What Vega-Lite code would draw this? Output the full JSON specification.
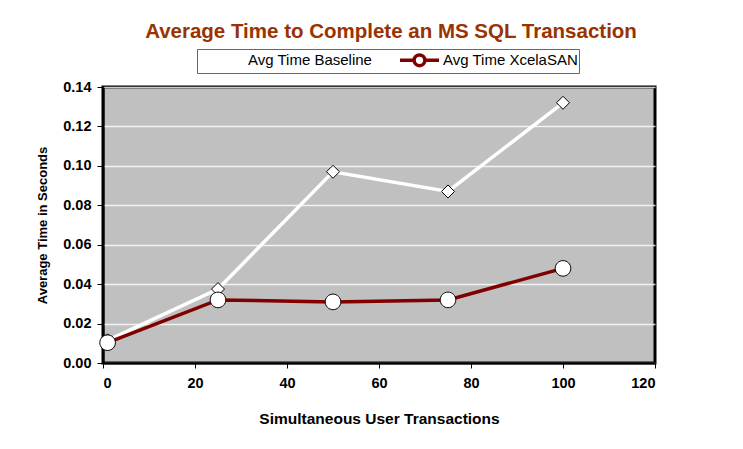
{
  "$schema": "https://vega.github.io/schema/vega-lite/v6.json",
  "width": 552,
  "height": 276,
  "autosize": {"type": "none"},
  "padding": {"left": 103, "top": 87, "right": 88, "bottom": 86},
  "background": "white",
  "title": {
    "text": "Average Time to Complete an MS SQL Transaction",
    "font": "Liberation Sans",
    "fontSize": 20.5,
    "fontWeight": "bold",
    "color": "#993300",
    "anchor": "middle",
    "frame": "group",
    "dx": 12,
    "offset": 6
  },
  "data": {
    "values": [
      {"users": 1, "time": 0.0115, "series": "Avg Time Baseline"},
      {"users": 25, "time": 0.0375, "series": "Avg Time Baseline"},
      {"users": 50, "time": 0.097, "series": "Avg Time Baseline"},
      {"users": 75, "time": 0.087, "series": "Avg Time Baseline"},
      {"users": 100, "time": 0.132, "series": "Avg Time Baseline"},
      {"users": 1, "time": 0.0103, "series": "Avg Time XcelaSAN"},
      {"users": 25, "time": 0.032, "series": "Avg Time XcelaSAN"},
      {"users": 50, "time": 0.031, "series": "Avg Time XcelaSAN"},
      {"users": 75, "time": 0.032, "series": "Avg Time XcelaSAN"},
      {"users": 100, "time": 0.048, "series": "Avg Time XcelaSAN"}
    ]
  },
  "encoding": {
    "x": {
      "field": "users",
      "type": "quantitative",
      "scale": {"domain": [0, 120], "nice": false},
      "axis": {
        "values": [0, 20, 40, 60, 80, 100, 120],
        "title": "Simultaneous User Transactions",
        "grid": false,
        "tickSize": 5,
        "tickColor": "black",
        "domainColor": "black",
        "domainWidth": 2,
        "labelFont": "Liberation Sans",
        "labelFontWeight": "bold",
        "labelFontSize": 14.5,
        "labelColor": "black",
        "labelPadding": 8,
        "titleFont": "Liberation Sans",
        "titleFontWeight": "bold",
        "titleFontSize": 15.5,
        "titleColor": "black",
        "titlePadding": 22
      }
    },
    "y": {
      "field": "time",
      "type": "quantitative",
      "scale": {"domain": [0, 0.14], "nice": false},
      "axis": {
        "values": [0, 0.02, 0.04, 0.06, 0.08, 0.1, 0.12, 0.14],
        "format": ".2f",
        "title": "Average Time in Seconds",
        "grid": true,
        "gridColor": "white",
        "gridOpacity": 0.8,
        "gridWidth": 1.5,
        "tickSize": 6,
        "tickColor": "black",
        "domainColor": "black",
        "domainWidth": 2,
        "labelFont": "Liberation Sans",
        "labelFontWeight": "bold",
        "labelFontSize": 14.5,
        "labelColor": "black",
        "labelPadding": 6,
        "titleFont": "Liberation Sans",
        "titleFontWeight": "bold",
        "titleFontSize": 13,
        "titleColor": "black",
        "titlePadding": 13
      }
    }
  },
  "layer": [
    {
      "mark": {"type": "line", "strokeWidth": 3.5},
      "encoding": {
        "color": {
          "field": "series",
          "type": "nominal",
          "scale": {"domain": ["Avg Time Baseline", "Avg Time XcelaSAN"], "range": ["#FFFFFF", "#800000"]},
          "legend": {
            "title": null,
            "orient": "none",
            "legendX": 94,
            "legendY": -38,
            "direction": "horizontal",
            "fillColor": "white",
            "strokeColor": "#666666",
            "padding": 0,
            "symbolType": "M-0.333,0H1.233M2.433,0H4M2.433,0A0.6,0.6,0,1,1,1.233,0A0.6,0.6,0,1,1,2.433,0",
            "symbolSize": 324,
            "symbolStrokeWidth": 3.5,
            "labelFont": "Liberation Sans",
            "labelFontSize": 15,
            "labelColor": "black",
            "labelOffset": 29,
            "columnPadding": 19
          }
        }
      }
    },
    {
      "mark": {"type": "point", "fill": "white", "stroke": "black", "strokeWidth": 1, "size": 2700, "opacity": 1, "fillOpacity": 1},
      "encoding": {
        "shape": {
          "field": "series",
          "type": "nominal",
          "scale": {"range": ["M0,-0.25L0.25,0L0,0.25L-0.25,0Z", "M0.3,0A0.3,0.3,0,1,1,-0.3,0A0.3,0.3,0,1,1,0.3,0Z"]},
          "legend": null
        }
      }
    }
  ],
  "config": {
    "view": {"fill": "#C0C0C0", "stroke": "black", "strokeWidth": 3}
  }
}
